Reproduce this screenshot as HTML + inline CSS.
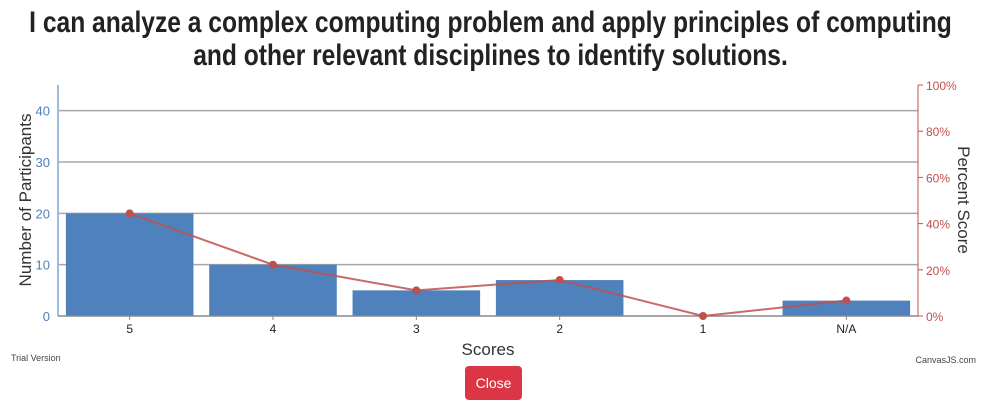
<!DOCTYPE html>
<html><head><meta charset="utf-8"><style>
body{margin:0;background:#fff;width:981px;height:406px;overflow:hidden;font-family:"Liberation Sans",sans-serif}
.title{position:absolute;left:-150px;width:1281px;text-align:center;white-space:nowrap;font-family:"Liberation Sans",sans-serif;font-weight:bold;font-size:30px;color:#222;transform:scaleX(0.82);transform-origin:640.5px 0;line-height:33px;top:6px}
.btn{position:absolute;left:465px;top:366px;width:57px;height:34px;background:#dc3545;color:#fff;border-radius:4px;font-size:14px;line-height:34px;text-align:center}
</style></head><body>
<div class="title">I can analyze a complex computing problem and apply principles of computing<br>and other relevant disciplines to identify solutions.</div>
<svg id="c" width="981" height="406" style="position:absolute;left:0;top:0"></svg>
<div class="btn">Close</div>
<script>
const categories=["5","4","3","2","1","N/A"];
const counts=[20,10,5,7,0,3];
const percents=[44.4,22.2,11.1,15.6,0,6.7];
const leftTicks=[0,10,20,30,40];
const rightTicks=[0,20,40,60,80,100];
const svg=document.getElementById('c');
const NS='http://www.w3.org/2000/svg';
const X0=58,X1=918,Y0=316,YT=85;
const yL=v=>Y0-(v/45)*(Y0-YT);
const yR=v=>Y0-(v/100)*(Y0-YT);
const band=(X1-X0)/categories.length;
const xc=i=>X0+band*(i+0.5);
function mk(t,a,txt){const e=document.createElementNS(NS,t);for(const k in a)e.setAttribute(k,a[k]);if(txt!=null)e.textContent=txt;svg.appendChild(e);return e;}
leftTicks.forEach(v=>{
 if(v>0){const g=mk('line',{x1:X0,x2:X1,y1:yL(v),y2:yL(v),stroke:'#a8a8a8','stroke-width':1.5});
 
 }
 const t=mk('text',{x:X0-8,y:yL(v)+5,'text-anchor':'end','font-size':13,fill:'#4f81bc'},v);
 
 
});
rightTicks.forEach(v=>{
 mk('line',{x1:X1,x2:X1+5,y1:yR(v),y2:yR(v),stroke:'#c0504d'});
 const t=mk('text',{x:X1+8,y:yR(v)+5,'font-size':12,fill:'#c0504d'},v+'%');
 
 
});
counts.forEach((v,i)=>{
 const r=mk('rect',{x:xc(i)-band*0.445,y:yL(v),width:band*0.89,height:Y0-yL(v),fill:'#4f81bc'});
 
 
 const t=mk('text',{x:xc(i),y:Y0+17,'text-anchor':'middle','font-size':12,fill:'#222'},categories[i]);
 
 
 mk('line',{x1:xc(i),x2:xc(i),y1:Y0,y2:Y0+4,stroke:'#888'});
});
mk('line',{x1:X0,x2:X0,y1:YT,y2:Y0,stroke:'#9fbbdb','stroke-width':2});
mk('line',{x1:X1,x2:X1,y1:YT,y2:Y0,stroke:'#c0504d','stroke-width':1});
mk('line',{x1:X0,x2:X1,y1:Y0,y2:Y0,stroke:'#888','stroke-width':1.5});
const pl=mk('polyline',{points:percents.map((v,i)=>xc(i)+','+yR(v)).join(' '),fill:'none',stroke:'#c0504d','stroke-width':2,'stroke-opacity':0.85});


percents.forEach((v,i)=>{
 const p=mk('circle',{cx:xc(i),cy:yR(v),r:4,fill:'#c0504d'});
 
 
});
const yt=mk('text',{transform:'translate(31,200) rotate(-90)','text-anchor':'middle','font-size':17,fill:'#333'},'Number of Participants');


const y2=mk('text',{transform:'translate(958,200) rotate(90)','text-anchor':'middle','font-size':17,fill:'#333'},'Percent Score');


const xt=mk('text',{x:488,y:355,'text-anchor':'middle','font-size':17,fill:'#333'},'Scores');


const tv=mk('text',{x:11,y:361,'font-size':9,fill:'#444'},'Trial Version');


const cj=mk('text',{x:976,y:363,'text-anchor':'end','font-size':9,fill:'#444'},'CanvasJS.com');


</script>
</body></html>
